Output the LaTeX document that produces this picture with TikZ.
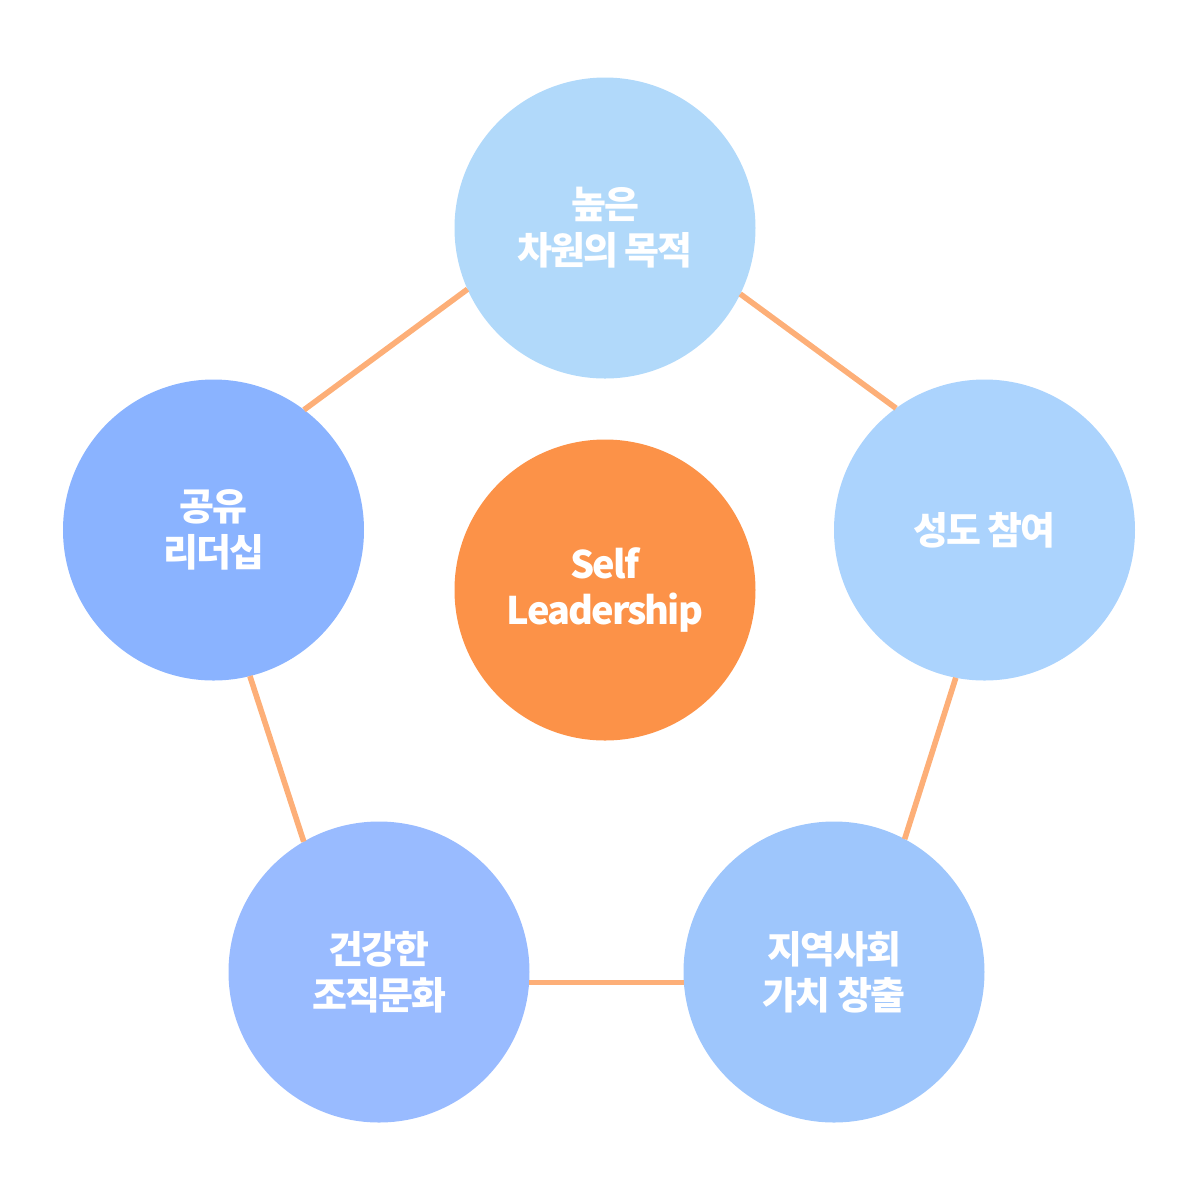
\documentclass[tikz,border=0pt]{standalone}
\usepackage{fontspec}
\newfontfamily\kofont{Noto Sans CJK KR}[LetterSpace=-5]
\definecolor{topblue}{HTML}{B1D9FA}
\definecolor{rightblue}{HTML}{ABD3FD}
\definecolor{leftblue}{HTML}{8AB3FF}
\definecolor{lowleftblue}{HTML}{99BBFF}
\definecolor{lowrightblue}{HTML}{9EC6FC}
\definecolor{selforange}{HTML}{FC9248}
\definecolor{linkorange}{HTML}{FDAF78}
\begin{document}
\begin{tikzpicture}
[circledecorate/.style={shape=circle,minimum size=3.01cm,inner sep=0pt,outer sep=0pt,
   text=white,align=center,font=\kofont\bfseries\fontsize{10.8}{13.1}\selectfont},%
  linedecorate/.style={-,line width=1.6pt,draw=linkorange}]
\useasboundingbox (0,0) rectangle (12,-12);
%%% outer ring of five circles
% nodes or vertices
\node (a) at (6.05,-2.28) [circledecorate,fill=topblue] {높은\\차원의 목적};
\node (b) at (9.845,-5.30) [circledecorate,fill=rightblue] {성도 참여};
\node (c) at (8.34,-9.72) [circledecorate,fill=lowrightblue] {지역사회\\가치 창출};
\node (d) at (3.79,-9.72) [circledecorate,fill=lowleftblue] {건강한\\조직문화};
\node (e) at (2.135,-5.30) [circledecorate,fill=leftblue] {공유\\리더십};
% edges or lines
\path
(a.334) edge[linedecorate] (b.126)
(b.259) edge[linedecorate] (c.62)
(c.184) edge[linedecorate] (d.356)
(d.120) edge[linedecorate] (e.284)
(e.53) edge[linedecorate] (a.204);
%
%%% center circle
\node (s) at (6.05,-5.90) [circledecorate,fill=selforange] {Self\\Leadership};
\end{tikzpicture}
\end{document}
